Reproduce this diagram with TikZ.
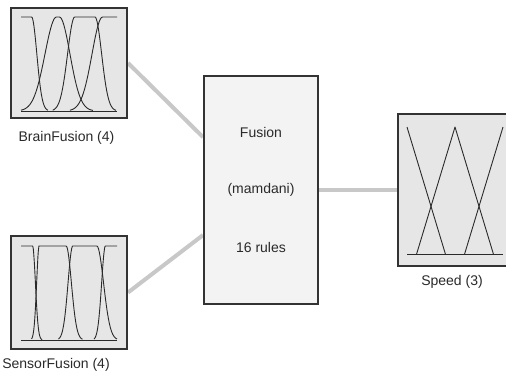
\documentclass[tikz,border=0pt]{standalone}
\usepackage{fontspec}
\setmainfont{Liberation Sans}
\usetikzlibrary{calc,backgrounds}
\definecolor{boxborder}{HTML}{333333}
\definecolor{boxfill}{HTML}{E6E6E6}
\definecolor{rulefill}{HTML}{F3F3F3}
\definecolor{wire}{HTML}{C8C8C8}
\definecolor{ink}{HTML}{2A2A2A}
\tikzset{
  varbox/.style={draw=boxborder, line width=2pt, fill=boxfill, rectangle, inner sep=0pt},
  rulebox/.style={draw=boxborder, line width=2pt, fill=rulefill, rectangle, inner sep=0pt},
  wireline/.style={draw=wire, line width=4pt},
  mfline/.style={draw=ink, line width=0.9pt, line join=round},
  lab/.style={text=ink, font=\fontsize{14}{16}\selectfont, inner sep=0pt, anchor=center},
}
\begin{document}
\begin{tikzpicture}[x=1pt,y=-1pt]
\useasboundingbox (0,0) rectangle (506,376);
\clip (0,0) rectangle (506,376);

% boxes
\node[varbox, minimum width=116pt, minimum height=110pt] (B) at (69,63) {};
\node[varbox, minimum width=116pt, minimum height=113pt] (S) at (69,292.5) {};
\node[rulebox, minimum width=114pt, minimum height=228pt] (F) at (261,190) {};
\node[varbox, minimum width=114pt, minimum height=152pt] (O) at (455,190) {};

% connectors (behind boxes)
\begin{scope}[on background layer]
\fill[white] (0,0) rectangle (506,376);
\draw[wireline] (B.east) -- ($(F.north west)!0.27!(F.south west)$);
\draw[wireline] (S.east) -- ($(F.north west)!0.696!(F.south west)$);
\draw[wireline] (F.east) -- (O.west);
\end{scope}

% BrainFusion membership functions
\begin{scope}[shift={(21,111)}, xscale=96, yscale=-94]
\draw[mfline] (0,0) -- (1,0);
\draw[mfline] (0,1) -- (0.11,1) -- plot[domain=0.11:0.28, samples=30] (\x,{exp(-((\x-0.11)^2)/0.00605)});
\draw[mfline] plot[domain=0:0.37, samples=30] (\x,{exp(-((\x-0.37)^2)/0.0288)}) -- (0.40,1) -- plot[domain=0.40:0.75, samples=30] (\x,{exp(-((\x-0.40)^2)/0.0242)});
\draw[mfline] plot[domain=0.33:0.56, samples=30] (\x,{exp(-((\x-0.56)^2)/0.01125)}) -- (0.77,1) -- plot[domain=0.77:0.99, samples=30] (\x,{exp(-((\x-0.77)^2)/0.0098)});
\draw[mfline] plot[domain=0.51:0.85, samples=30] (\x,{exp(-((\x-0.85)^2)/0.0242)}) -- (1,1);
\end{scope}

% SensorFusion membership functions
\begin{scope}[shift={(21,340)}, xscale=96, yscale=-94]
\draw[mfline] (0,0) -- (1,0);
\draw[mfline] (0,1) -- (0.12,1) -- plot[domain=0.12:0.22, samples=25] (\x,{exp(-((\x-0.12)^2)/0.0018)});
\draw[mfline] plot[domain=0.11:0.19, samples=25] (\x,{exp(-((\x-0.19)^2)/0.001458)}) -- (0.47,1) -- plot[domain=0.47:0.64, samples=25] (\x,{exp(-((\x-0.47)^2)/0.00605)});
\draw[mfline] plot[domain=0.39:0.54, samples=25] (\x,{exp(-((\x-0.54)^2)/0.005)}) -- (0.79,1) -- plot[domain=0.79:1.0, samples=25] (\x,{exp(-((\x-0.79)^2)/0.0098)});
\draw[mfline] plot[domain=0.76:0.88, samples=25] (\x,{exp(-((\x-0.88)^2)/0.0032)}) -- (1,1);
\end{scope}

% Speed membership functions
\begin{scope}[shift={(407,254)}, xscale=96, yscale=-127]
\draw[mfline] (0,0) -- (1,0);
\draw[mfline] (0,1) -- (0.4,0);
\draw[mfline] (0.1,0) -- (0.5,1) -- (0.9,0);
\draw[mfline] (0.6,0) -- (1,1);
\end{scope}

% labels
\node[lab] (Blab) at (66.5,138) {BrainFusion (4)};
\node[lab] (Slab) at (56,365) {SensorFusion (4)};
\node[lab] (Olab) at (452,282) {Speed (3)};
\node[lab] (F1) at ($(F.center)+(0,-58)$) {Fusion};
\node[lab] (F2) at (F.center) {(mamdani)};
\node[lab] (F3) at ($(F.center)+(0,57)$) {16 rules};
\end{tikzpicture}
\end{document}
